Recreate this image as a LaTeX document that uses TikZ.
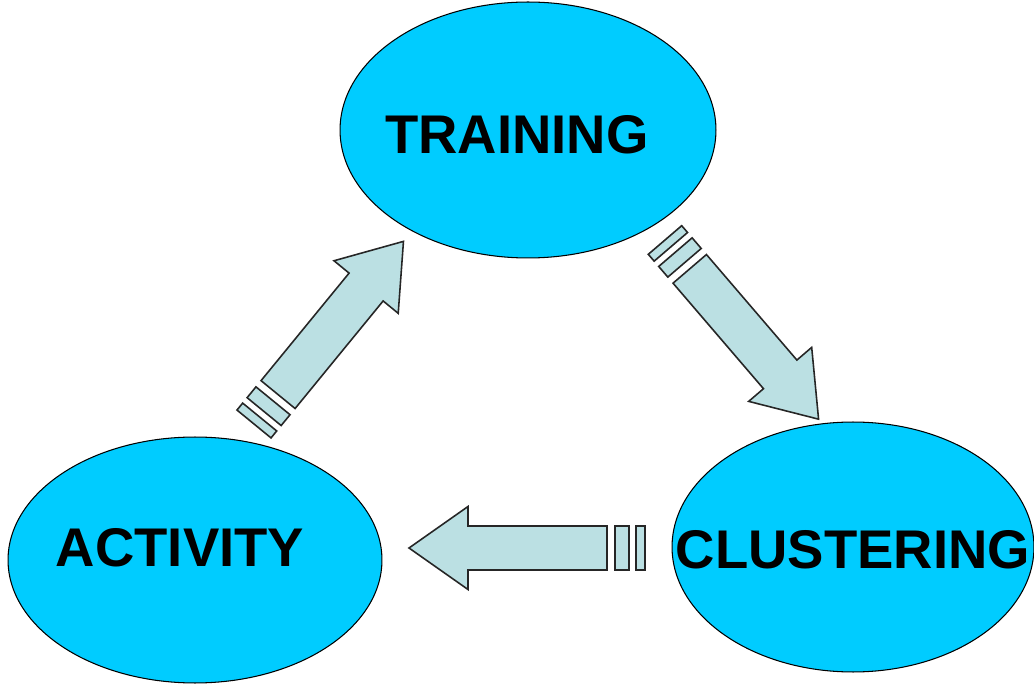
\documentclass[tikz,border=0pt]{standalone}
\usepackage{fontspec}
\setmainfont{Liberation Sans}
\usetikzlibrary{shapes.geometric}
\definecolor{blobcyan}{HTML}{00CCFF}
\definecolor{arrowblue}{HTML}{BBE0E3}
\tikzset{
  blob/.style={ellipse,draw=black,fill=blobcyan,line width=0.6pt,inner sep=0pt},
  lbl/.style={font=\fontsize{31}{36}\selectfont\bfseries,inner sep=0pt},
  arrowpart/.style={draw=black!85,fill=arrowblue,line width=0.9pt,line join=miter},
  blockarrow/.pic={
    \draw[arrowpart] (0,-22) rectangle (9,22);
    \draw[arrowpart] (16,-22) rectangle (30,22);
    \draw[arrowpart] (38,-22) -- (177,-22) -- (177,-41.5) -- (236,0)
      -- (177,41.5) -- (177,22) -- (38,22) -- cycle;
  }
}
\begin{document}
\begin{tikzpicture}[x=0.02cm,y=0.02cm]
  \useasboundingbox (0,0) rectangle (1034,683);
  % the three stages
  \node[blob,minimum width=7.52cm,minimum height=5.12cm] (training) at (528,553) {};
  \node[blob,minimum width=7.48cm,minimum height=4.92cm] (activity) at (195,123) {};
  \node[blob,minimum width=7.24cm,minimum height=5.00cm] (clustering) at (853,136) {};
  \node[lbl] (trainingtxt) at (517,548) {TRAINING};
  \node[lbl] (activitytxt) at (180,135) {ACTIVITY};
  \node[lbl] (clusteringtxt) at (853,133) {CLUSTERING};
  % striped block arrows
  \pic[rotate=-49.4] at (665,443) {blockarrow};
  \pic[rotate=180] at (645,135) {blockarrow};
  \pic[rotate=50.7] at (254,259) {blockarrow};
\end{tikzpicture}
\end{document}
